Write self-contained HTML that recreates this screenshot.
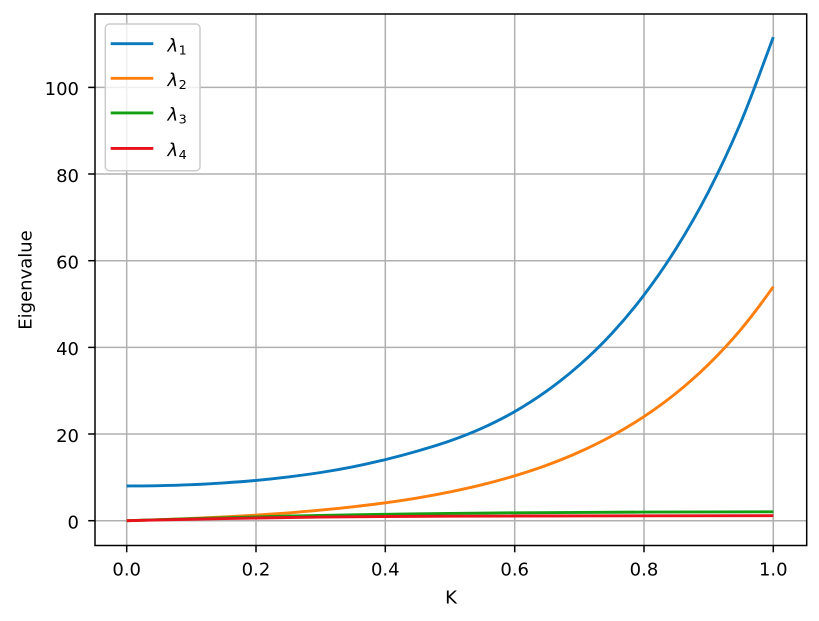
<!DOCTYPE html>
<html><head><meta charset="utf-8"><style>
html,body{margin:0;padding:0;background:#fff;}
svg{display:block;}
text{font-family:"DejaVu Sans","Liberation Sans",sans-serif;fill:#000;}
</style></head><body>
<svg width="819" height="621" viewBox="0 0 819 621" xmlns="http://www.w3.org/2000/svg">
<rect x="0" y="0" width="819" height="621" fill="#fff"/>
<!-- grid -->
<g stroke="#b0b0b0" stroke-width="1.5" fill="none">
<line x1="126.7" y1="14" x2="126.7" y2="545.5"/>
<line x1="256.0" y1="14" x2="256.0" y2="545.5"/>
<line x1="385.3" y1="14" x2="385.3" y2="545.5"/>
<line x1="514.7" y1="14" x2="514.7" y2="545.5"/>
<line x1="644.0" y1="14" x2="644.0" y2="545.5"/>
<line x1="773.3" y1="14" x2="773.3" y2="545.5"/>
<line x1="95" y1="520.7" x2="806.7" y2="520.7"/>
<line x1="95" y1="434.0" x2="806.7" y2="434.0"/>
<line x1="95" y1="347.4" x2="806.7" y2="347.4"/>
<line x1="95" y1="260.7" x2="806.7" y2="260.7"/>
<line x1="95" y1="174.0" x2="806.7" y2="174.0"/>
<line x1="95" y1="87.4" x2="806.7" y2="87.4"/>
</g>
<!-- series -->
<g fill="none" stroke-width="2.9" stroke-linejoin="round" stroke-linecap="butt">
<path stroke="#0a78bd" d="M126.7,486.0
C137.5,485.95 148.2,485.92 159.0,485.7
C169.8,485.48 180.6,485.17 191.4,484.7
C202.2,484.23 212.9,483.62 223.7,482.9
C234.5,482.18 245.2,481.4 256.0,480.4
C266.8,479.4 277.6,478.22 288.4,476.9
C299.2,475.58 309.9,474.18 320.7,472.5
C331.5,470.82 342.2,468.95 353.0,466.8
C363.8,464.65 374.5,462.24 385.3,459.6
C396.1,456.96 406.9,454.1 417.7,450.98
C428.5,447.86 439.2,444.71 450.0,440.89
C460.8,437.07 471.5,432.94 482.3,428.06
C493.1,423.18 503.9,417.81 514.7,411.6
C525.5,405.39 536.2,398.53 547.0,390.8
C557.8,383.07 568.5,374.73 579.3,365.2
C590.1,355.67 600.9,345.3 611.7,333.6
C622.5,321.9 633.2,309.23 644.0,295.0
C654.8,280.77 665.5,265.45 676.3,248.2
C687.1,230.95 697.8,212.55 708.6,191.5
C719.4,170.45 730.2,147.63 741.0,121.9
C751.8,96.17 762.5,66.1 773.3,37.1"/>
<path stroke="#ff7f0e" d="M126.7,520.7
C137.5,520.55 148.2,520.08 159.0,519.7
C169.8,519.32 180.6,518.87 191.4,518.4
C202.2,517.93 212.9,517.45 223.7,516.9
C234.5,516.35 245.2,515.77 256.0,515.1
C266.8,514.43 277.6,513.73 288.4,512.9
C299.2,512.07 309.9,511.12 320.7,510.1
C331.5,509.08 342.2,508.02 353.0,506.8
C363.8,505.58 374.5,504.28 385.3,502.8
C396.1,501.32 406.9,499.72 417.7,497.9
C428.5,496.08 439.2,494.1 450.0,491.9
C460.8,489.7 471.5,487.38 482.3,484.7
C493.1,482.02 503.9,479.07 514.7,475.8
C525.5,472.53 536.2,469.07 547.0,465.1
C557.8,461.13 568.5,456.85 579.3,452.0
C590.1,447.15 600.9,441.9 611.7,436.0
C622.5,430.1 633.2,423.77 644.0,416.6
C654.8,409.43 665.5,401.72 676.3,393.0
C687.1,384.28 697.8,374.92 708.6,364.3
C719.4,353.68 730.2,342.23 741.0,329.3
C751.8,316.37 762.5,302.0 773.3,286.7"/>
<polyline stroke="#12a012" points="126.7,520.7 159.0,519.7 191.4,518.7 223.7,517.8 256.0,516.9 288.4,516.1 320.7,515.4 353.0,514.8 385.3,514.3 417.7,513.8 450.0,513.4 514.7,512.8 579.3,512.4 644.0,512.1 708.6,511.9 773.3,511.8"/>
<polyline stroke="#e8121c" points="126.7,520.7 159.0,519.96 191.4,519.25 223.7,518.6 256.0,518.0 288.4,517.5 320.7,517.1 353.0,516.8 385.3,516.5 450.0,516.2 514.7,516.0 644.0,515.8 773.3,515.7"/>
</g>
<!-- axes frame -->
<rect x="95" y="14" width="711.7" height="531.5" fill="none" stroke="#000" stroke-width="1.5"/>
<!-- ticks -->
<g stroke="#000" stroke-width="1.5">
<line x1="126.7" y1="545.5" x2="126.7" y2="552.3"/>
<line x1="256.0" y1="545.5" x2="256.0" y2="552.3"/>
<line x1="385.3" y1="545.5" x2="385.3" y2="552.3"/>
<line x1="514.7" y1="545.5" x2="514.7" y2="552.3"/>
<line x1="644.0" y1="545.5" x2="644.0" y2="552.3"/>
<line x1="773.3" y1="545.5" x2="773.3" y2="552.3"/>
<line x1="88.2" y1="520.7" x2="95" y2="520.7"/>
<line x1="88.2" y1="434.0" x2="95" y2="434.0"/>
<line x1="88.2" y1="347.4" x2="95" y2="347.4"/>
<line x1="88.2" y1="260.7" x2="95" y2="260.7"/>
<line x1="88.2" y1="174.0" x2="95" y2="174.0"/>
<line x1="88.2" y1="87.4" x2="95" y2="87.4"/>
</g>
<g font-size="18" text-anchor="middle">
<text x="126.7" y="575.5">0.0</text>
<text x="256.0" y="575.5">0.2</text>
<text x="385.3" y="575.5">0.4</text>
<text x="514.7" y="575.5">0.6</text>
<text x="644.0" y="575.5">0.8</text>
<text x="773.3" y="575.5">1.0</text>
</g>
<g font-size="18" text-anchor="end">
<text x="79" y="528.5">0</text>
<text x="79" y="441.8">20</text>
<text x="79" y="355.2">40</text>
<text x="79" y="268.5">60</text>
<text x="79" y="181.8">80</text>
<text x="79" y="95.2">100</text>
</g>
<text x="451" y="603.5" font-size="18" text-anchor="middle">K</text>
<text transform="translate(31.7,280) rotate(-90)" font-size="18" text-anchor="middle">Eigenvalue</text>
<!-- legend -->
<rect x="105.3" y="24" width="94.7" height="146.7" rx="4" ry="4" fill="#fff" fill-opacity="0.8" stroke="#cccccc" stroke-width="1.5"/>
<g stroke-width="2.9">
<line x1="110.7" y1="43.7" x2="153.3" y2="43.7" stroke="#0a78bd"/>
<line x1="110.7" y1="78.3" x2="153.3" y2="78.3" stroke="#ff7f0e"/>
<line x1="110.7" y1="112.9" x2="153.3" y2="112.9" stroke="#12a012"/>
<line x1="110.7" y1="148.4" x2="153.3" y2="148.4" stroke="#e8121c"/>
</g>
<g font-size="18">
<text x="167.5" y="51.5" font-style="italic">λ<tspan font-style="normal" font-size="12.8" dx="0.5" dy="2.8">1</tspan></text>
<text x="167.5" y="86.1" font-style="italic">λ<tspan font-style="normal" font-size="12.8" dx="0.5" dy="2.8">2</tspan></text>
<text x="167.5" y="120.7" font-style="italic">λ<tspan font-style="normal" font-size="12.8" dx="0.5" dy="2.8">3</tspan></text>
<text x="167.5" y="156.2" font-style="italic">λ<tspan font-style="normal" font-size="12.8" dx="0.5" dy="2.8">4</tspan></text>
</g>
</svg>
</body></html>
